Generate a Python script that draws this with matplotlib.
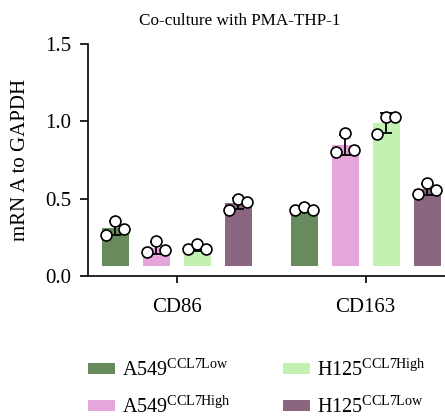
import numpy as np
import matplotlib
matplotlib.use("Agg")
import matplotlib.pyplot as plt
from matplotlib.patches import Patch

plt.rcParams['font.family'] = ['Liberation Serif', 'DejaVu Serif']
plt.rcParams['mathtext.fontset'] = 'custom'
plt.rcParams['mathtext.rm'] = 'Liberation Serif'

genes = ['CD86', 'CD163']
series = [r'A549$^{\mathrm{CCL7Low}}$', r'A549$^{\mathrm{CCL7High}}$',
          r'H125$^{\mathrm{CCL7High}}$', r'H125$^{\mathrm{CCL7Low}}$']
colors = ['#678b5d', '#e7a6db', '#c3f1b1', '#8a6680']

# bar means, per series: [CD86, CD163]
a549_low_mean = [0.31, 0.43]
a549_high_mean = [0.18, 0.85]
h125_high_mean = [0.18, 0.99]
h125_low_mean = [0.47, 0.56]

# replicate points, per series and gene (left, middle, right)
a549_low_pts = [[0.267, 0.358, 0.306], [0.427, 0.445, 0.427]]
a549_high_pts = [[0.157, 0.228, 0.168], [0.805, 0.924, 0.816]]
h125_high_pts = [[0.175, 0.207, 0.177], [0.917, 1.027, 1.027]]
h125_low_pts = [[0.427, 0.498, 0.477], [0.529, 0.600, 0.557]]

means = [a549_low_mean, a549_high_mean, h125_high_mean, h125_low_mean]
points = [a549_low_pts, a549_high_pts, h125_high_pts, h125_low_pts]

fig = plt.figure(figsize=(4.45, 4.17), dpi=100)
ax = fig.add_axes([0.198, 0.338, 0.802, 0.556])

x = np.arange(len(genes))
width = 0.143
step = 0.217
base = 0.065
jit = np.array([-0.047, 0.0, 0.047])

for i in range(4):
    xs = x + (i - 1.5) * step
    m = np.array(means[i])
    ax.bar(xs, m - base, bottom=base, width=width, color=colors[i], zorder=1)
    for j in range(len(genes)):
        pts = np.array(points[i][j])
        sd = pts.std(ddof=1)
        ax.errorbar(xs[j], m[j], yerr=sd, color='black', capsize=4,
                    elinewidth=1.3, capthick=1.3, zorder=2)
        ax.scatter(xs[j] + jit, pts, s=62, facecolor='white',
                   edgecolor='black', linewidth=1.2, zorder=3)

ax.set_xlim(-0.468, 1.42)
ax.set_ylim(0, 1.5)
ax.set_yticks([0, 0.5, 1.0, 1.5])
ax.set_yticklabels(['0.0', '0.5', '1.0', '1.5'])
ax.set_xticks(x)
ax.set_xticklabels(genes)
ax.tick_params(labelsize=15, width=1.2, length=6, direction='out')
ax.tick_params(axis='y', pad=6)
ax.tick_params(axis='x', pad=11, length=5)
ax.spines['top'].set_visible(False)
ax.spines['right'].set_visible(False)
ax.spines['left'].set_linewidth(1.2)
ax.spines['bottom'].set_linewidth(1.2)
ax.set_ylabel('mRN A to GAPDH', fontsize=15, labelpad=11)
ax.set_title('Co-culture with PMA-THP-1', fontsize=12.3, pad=14, x=0.426)

handles = [Patch(facecolor=c, edgecolor='none') for c in colors]
fig.legend(handles, series, loc='upper left', bbox_to_anchor=(0.198, 0.14),
           ncol=2, frameon=False, fontsize=14.5, handlelength=1.34,
           handleheight=0.45, labelspacing=0.75, columnspacing=2.6,
           handletextpad=0.35, borderpad=0, borderaxespad=0)

fig.savefig('out.png', dpi=100)
